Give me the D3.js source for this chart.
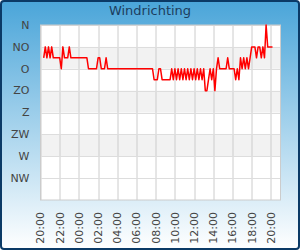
<!DOCTYPE html>
<html>
<head>
<meta charset="utf-8">
<script src="https://cdn.jsdelivr.net/npm/d3@7"></script>
<style>
  body { margin: 0; }
  svg { display: block; font-family: "DejaVu Sans", sans-serif; }
</style>
</head>
<body>
<svg id="chart"></svg>
<script>
// Wind direction (degrees), one reading every 10 minutes, starting 20:20
const firstReading = new Date(2020, 0, 1, 20, 20);
const stepMinutes = 10;
const windDir = [
  67.5, 45, 67.5, 45, 67.5, 45,
  67.5, 67.5, 67.5, 67.5, 67.5,
  90, 45, 67.5, 67.5, 67.5, 45,
  67.5, 67.5, 67.5, 67.5, 67.5, 67.5, 67.5, 67.5, 67.5, 67.5, 67.5,
  90, 90, 90, 90, 90, 90,
  67.5, 67.5, 90, 90, 90, 67.5,
  90, 90, 90, 90, 90, 90, 90, 90, 90, 90, 90, 90, 90, 90, 90,
  90, 90, 90, 90, 90, 90, 90, 90, 90, 90, 90, 90, 90, 90,
  112.5, 112.5, 112.5, 90, 90,
  112.5, 112.5, 112.5, 112.5, 112.5, 112.5,
  90, 112.5, 90, 112.5, 90, 112.5, 90, 112.5, 90, 112.5, 90,
  112.5, 90, 112.5, 90, 112.5, 90, 112.5, 90, 112.5, 90,
  135, 135, 112.5, 90, 112.5, 90, 135, 90,
  67.5, 90, 90, 90, 90, 90, 67.5, 90, 90, 90, 90,
  112.5, 90, 112.5,
  67.5, 90, 67.5, 90, 67.5, 90, 67.5,
  45, 45, 45, 67.5, 45, 45, 67.5, 45, 67.5,
  0, 45, 45, 45, 45
];
const dirTicks = [0, 45, 90, 135, 180, 225, 270, 315];
const dirLabels = ["N", "NO", "O", "ZO", "Z", "ZW", "W", "NW"];
const domainStart = new Date(2020, 0, 1, 20, 0);
const domainEnd = new Date(2020, 0, 2, 21, 0);

const data = windDir.map((v, i) => ({
  time: new Date(firstReading.getTime() + i * stepMinutes * 60000),
  dir: v
}));

const width = 300, height = 250;
const margin = { top: 25, right: 19.5, bottom: 50, left: 40.5 };
const innerW = width - margin.left - margin.right;
const innerH = height - margin.top - margin.bottom;

const svg = d3.select("#chart").attr("width", width).attr("height", height);

// background
const grad = svg.append("defs").append("linearGradient")
  .attr("id", "bg").attr("x1", 0).attr("y1", 0).attr("x2", 0).attr("y2", 1);
grad.append("stop").attr("offset", "0%").attr("stop-color", "#4aa5d9");
grad.append("stop").attr("offset", "100%").attr("stop-color", "#ffffff");

svg.append("rect")
  .attr("x", 1).attr("y", 1).attr("width", width - 2).attr("height", height - 2)
  .attr("rx", 3)
  .attr("fill", "url(#bg)")
  .attr("stroke", "#0b3a66").attr("stroke-width", 2);

svg.append("text")
  .attr("x", width / 2).attr("y", 15)
  .attr("text-anchor", "middle")
  .attr("font-size", 13)
  .attr("fill", "#1c3d5e")
  .text("Windrichting");

const g = svg.append("g").attr("transform", `translate(${margin.left},${margin.top})`);

const x = d3.scaleTime().domain([domainStart, domainEnd]).range([0, innerW]);
const y = d3.scaleLinear().domain([0, 360]).range([0, innerH]);

g.append("rect").attr("width", innerW).attr("height", innerH).attr("fill", "#fff");

// alternating bands
g.selectAll(".band")
  .data(dirTicks.filter((d, i) => i % 2 === 1 && i < 7))
  .join("rect")
  .attr("class", "band")
  .attr("x", 0).attr("width", innerW)
  .attr("y", d => y(d)).attr("height", d => y(d + 45) - y(d))
  .attr("fill", "#f2f2f2");

// grid
const xTicks = x.ticks(d3.timeHour.every(2));
g.append("g").selectAll("line").data(xTicks).join("line")
  .attr("x1", d => Math.round(x(d)) + 0.5).attr("x2", d => Math.round(x(d)) + 0.5)
  .attr("y1", 0).attr("y2", innerH)
  .attr("stroke", "#cccccc");

g.append("g").selectAll("line").data(dirTicks).join("line")
  .attr("x1", 0).attr("x2", innerW)
  .attr("y1", d => Math.round(y(d)) + 0.5).attr("y2", d => Math.round(y(d)) + 0.5)
  .attr("stroke", "#dddddd");

g.append("rect").attr("width", innerW).attr("height", innerH)
  .attr("fill", "none").attr("stroke", "#cccccc");

// y labels
g.append("g").selectAll("text").data(dirTicks).join("text")
  .attr("x", -11).attr("y", d => y(d))
  .attr("dy", "0.35em")
  .attr("text-anchor", "end")
  .attr("font-size", 11)
  .attr("fill", "#444")
  .text((d, i) => dirLabels[i]);

// x labels
const fmt = d3.timeFormat("%H:%M");
g.append("g").selectAll("text").data(xTicks).join("text")
  .attr("transform", d => `translate(${x(d)},${innerH + 12}) rotate(-90)`)
  .attr("dy", "0.35em")
  .attr("text-anchor", "end")
  .attr("font-size", 11)
  .attr("fill", "#444")
  .text(d => fmt(d));

// line
const line = d3.line().x(d => x(d.time)).y(d => y(d.dir));
g.append("path")
  .datum(data)
  .attr("d", line)
  .attr("fill", "none")
  .attr("stroke", "#ff0000")
  .attr("stroke-width", 1.5)
  .attr("stroke-linejoin", "round");
</script>
</body>
</html>
